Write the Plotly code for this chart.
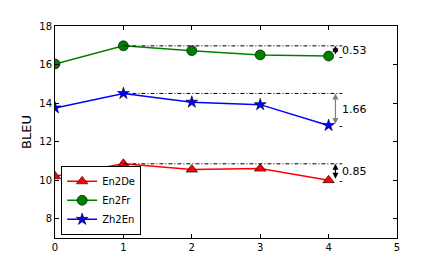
import plotly.graph_objects as go

steps = [0, 1, 2, 3, 4]
en2de = [10.2, 10.85, 10.55, 10.6, 10.0]
en2fr = [16.03, 16.97, 16.72, 16.5, 16.44]
zh2en = [13.75, 14.5, 14.05, 13.92, 12.84]
series_names = ["En2De", "En2Fr", "Zh2En"]
gap_labels = ["0.85", "0.53", "1.66"]

fig = go.Figure()
styles = [
    (en2de, "red", "triangle-up", 10),
    (en2fr, "green", "circle", 10),
    (zh2en, "blue", "star", 9),
]
for (vals, col, sym, sz), name in zip(styles, series_names):
    fig.add_trace(go.Scatter(
        x=steps, y=vals, name=name, mode="lines+markers",
        line=dict(color=col, width=1.5),
        marker=dict(symbol=sym, size=sz, color=col, line=dict(color="black", width=0.6)),
    ))

arrow_x = 4.1
for (vals, col, sym, sz), lab in zip(styles, gap_labels):
    mx = max(vals)
    last = vals[-1]
    fig.add_trace(go.Scatter(
        x=[1, 4.2], y=[mx, mx], mode="lines", showlegend=False,
        line=dict(color="black", width=1, dash="4px,2px,1px,2px"), hoverinfo="skip",
    ))
    fig.add_annotation(
        x=arrow_x, y=mx, ax=arrow_x, ay=last, xref="x", yref="y", axref="x", ayref="y",
        showarrow=True, arrowside="end+start", arrowhead=2, startarrowhead=2,
        arrowsize=1, startarrowsize=1, arrowwidth=1.2,
        arrowcolor="gray" if lab == "1.66" else "black", text="",
    )
    fig.add_annotation(
        x=4.18, y=last, xref="x", yref="y", text="-", showarrow=False,
        font=dict(size=10, color="black"), xanchor="center", yanchor="middle",
    )
    fig.add_annotation(
        x=4.17, y=(mx + last) / 2, xref="x", yref="y", text=lab, showarrow=False,
        font=dict(size=11, color="black"), xanchor="left", yanchor="middle",
    )

axis_common = dict(
    showgrid=False, zeroline=False, showline=True, linecolor="black", linewidth=1,
    mirror="ticks", ticks="inside", ticklen=4, tickcolor="black", automargin=False,
    tickfont=dict(family="DejaVu Sans", size=10, color="black"),
)
fig.update_xaxes(range=[0, 5], dtick=1, **axis_common)
fig.update_yaxes(range=[7, 18], tickvals=[8, 10, 12, 14, 16, 18],
                 title=dict(text="BLEU", font=dict(family="DejaVu Sans", size=13, color="black"), standoff=4),
                 **axis_common)

fig.update_layout(
    width=434, height=257, margin=dict(l=47, r=45, t=18, b=27),
    paper_bgcolor="white", plot_bgcolor="white",
    font=dict(family="DejaVu Sans", color="black"),
    legend=dict(x=0.018, y=0.015, xanchor="left", yanchor="bottom",
                bordercolor="black", borderwidth=1, bgcolor="white",
                font=dict(size=10, family="DejaVu Sans"), tracegroupgap=0,
                itemwidth=30),
)

fig.write_html("out.html")
